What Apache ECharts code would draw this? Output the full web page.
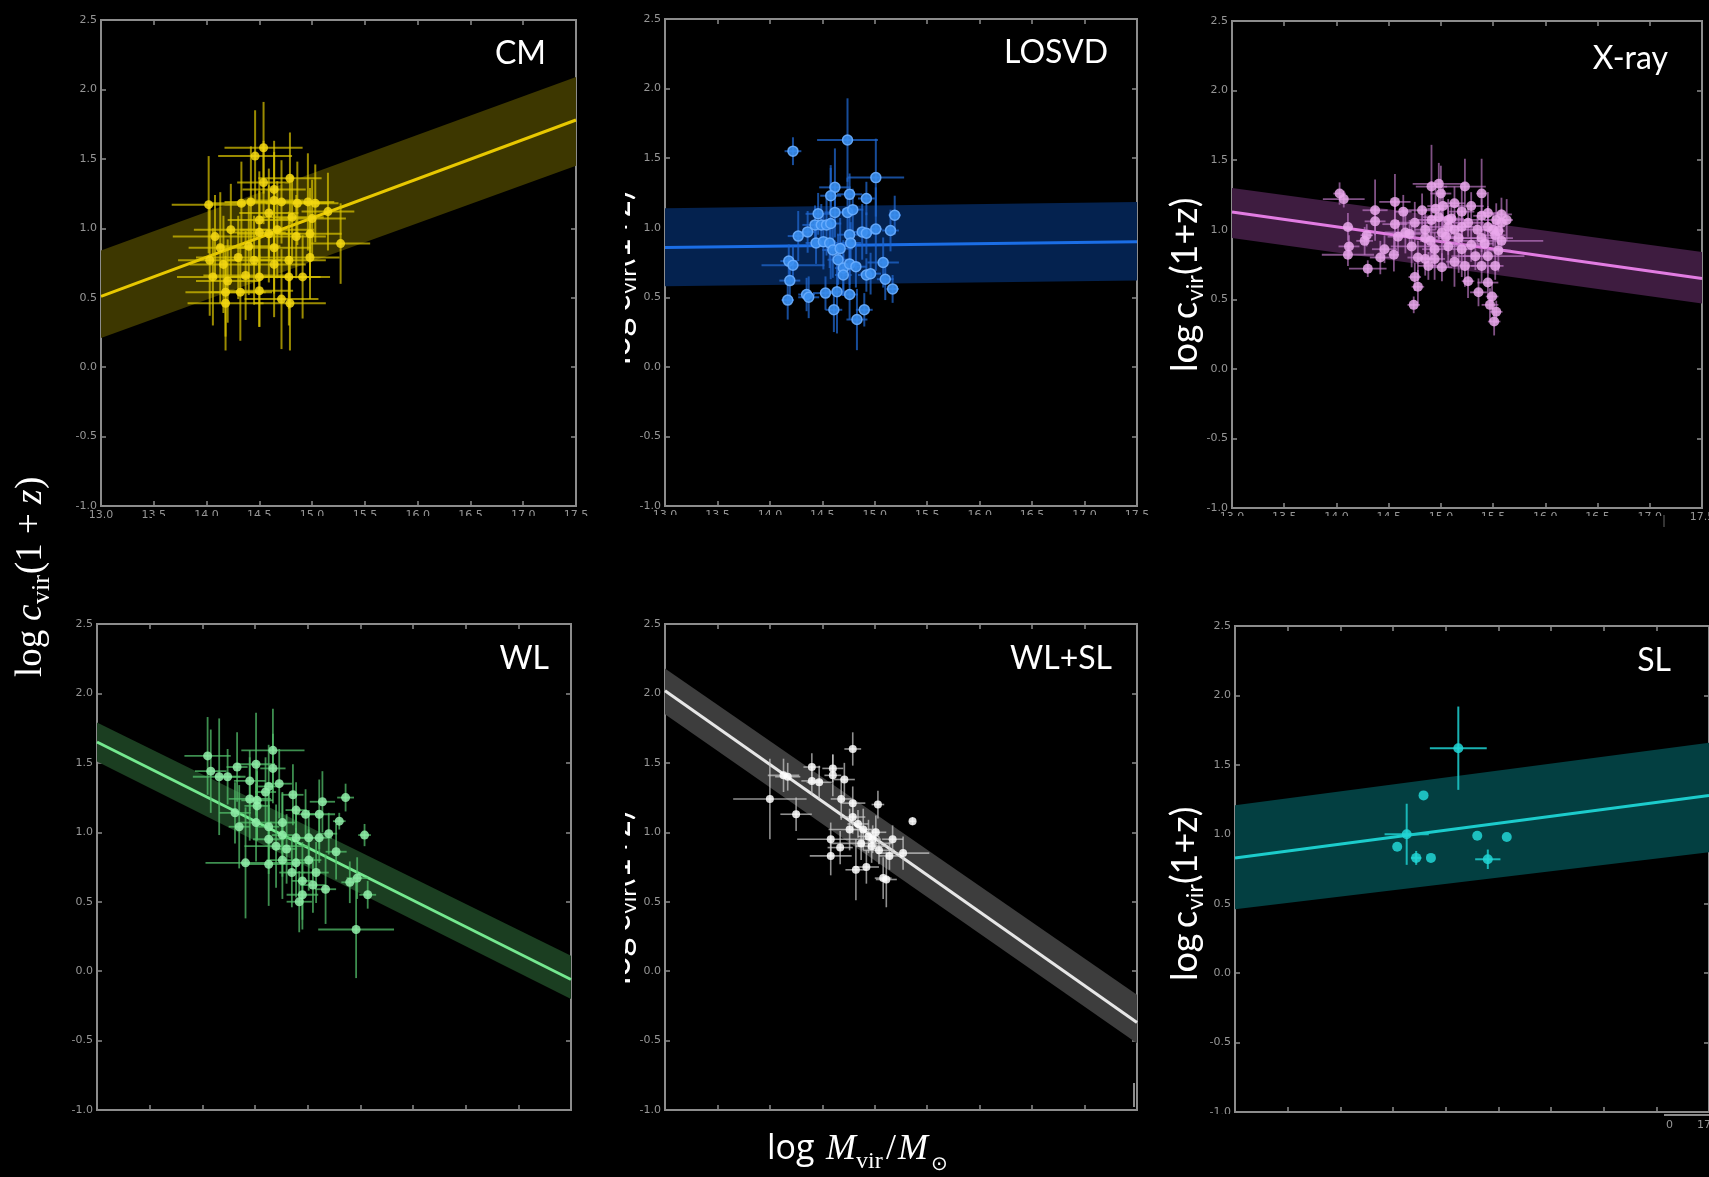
<!DOCTYPE html>
<html>
<head>
<meta charset="utf-8">
<script src="https://cdn.jsdelivr.net/npm/echarts@6/dist/echarts.min.js"></script>
<style>html,body{margin:0;padding:0;background:#000;}#c{width:1709px;height:1177px;}</style>
</head>
<body>
<div id="c"></div>
<script>
// ---- axes (shared by all panels) ----
const xMin = 13.0, xMax = 17.5, xStep = 0.5;
const yMin = -1.0, yMax = 2.5, yStep = 0.5;
const panelTitles = ['CM', 'LOSVD', 'X-ray', 'WL', 'WL+SL', 'SL'];

// ---- fitted relations: value at x = 13.0 and x = 17.5 ----
const bandX = [13.0, 17.5];
const cmLine = [0.51, 1.78],  cmLo = [0.21, 1.45],  cmHi = [0.84, 2.09];
const losLine = [0.857, 0.90], losLo = [0.58, 0.62], losHi = [1.14, 1.185];
const xrLine = [1.127, 0.65], xrLo = [0.94, 0.47],  xrHi = [1.30, 0.84];
const wlLine = [1.65, -0.06], wlLo = [1.51, -0.20], wlHi = [1.79, 0.11];
const wsLine = [2.02, -0.37], wsLo = [1.85, -0.52], wsHi = [2.18, -0.17];
const slLine = [0.83, 1.28],  slLo = [0.46, 0.87],  slHi = [1.21, 1.66];

// ---- CM ----
const cmX = [14.54,14.46,14.79,14.02,14.33,14.42,14.64,14.71,14.86,14.96,15.03,14.50,14.23,14.08,14.13,14.50,14.59,14.67,14.85,14.98,15.27,14.03,14.16,14.30,14.45,14.64,14.78,14.98,14.06,14.20,14.37,14.50,14.78,14.91,14.18,14.32,14.50,14.71,14.18,14.79,14.54,14.64,14.59,14.81,15.00,15.15,14.40,14.64];
const cmY = [1.58,1.52,1.36,1.17,1.18,1.19,1.20,1.19,1.18,1.19,1.18,1.06,0.99,0.94,0.86,0.97,0.96,0.99,0.94,0.96,0.89,0.77,0.74,0.79,0.77,0.74,0.77,0.79,0.65,0.62,0.66,0.65,0.65,0.65,0.54,0.54,0.55,0.49,0.46,0.46,1.33,1.28,1.11,1.08,1.07,1.12,0.87,0.86];
const cmXE = [0.37,0.35,0.30,0.35,0.30,0.25,0.28,0.33,0.30,0.25,0.22,0.30,0.35,0.40,0.30,0.25,0.30,0.35,0.28,0.30,0.28,0.30,0.32,0.40,0.26,0.30,0.35,0.28,0.34,0.30,0.40,0.28,0.30,0.26,0.38,0.30,0.32,0.35,0.36,0.34,0.25,0.30,0.28,0.30,0.32,0.25,0.30,0.35];
const cmYE = [0.33,0.33,0.33,0.35,0.30,0.40,0.35,0.30,0.30,0.35,0.28,0.35,0.33,0.30,0.40,0.30,0.35,0.35,0.30,0.33,0.29,0.40,0.35,0.30,0.32,0.38,0.35,0.30,0.35,0.30,0.32,0.36,0.35,0.30,0.32,0.35,0.26,0.36,0.34,0.34,0.30,0.35,0.32,0.30,0.28,0.28,0.35,0.33];

// ---- LOSVD ----
const losX = [14.22,14.74,15.01,14.62,14.58,14.76,14.92,14.46,14.62,14.74,14.79,15.19,14.27,14.36,14.43,14.49,14.54,14.58,14.76,14.88,14.92,15.01,15.15,14.44,14.51,14.57,14.60,14.67,14.77,14.18,14.22,14.65,14.70,14.76,14.82,15.08,14.70,14.92,14.96,15.10,14.19,15.17,14.35,14.37,14.53,14.64,14.76,14.17,14.61,14.90,14.83];
const losY = [1.55,1.63,1.36,1.29,1.23,1.24,1.21,1.10,1.11,1.11,1.13,1.09,0.94,0.97,1.02,1.02,1.02,1.03,0.95,0.97,0.96,0.99,0.98,0.89,0.90,0.89,0.84,0.85,0.89,0.76,0.73,0.77,0.71,0.74,0.72,0.75,0.66,0.66,0.67,0.63,0.62,0.56,0.52,0.50,0.53,0.54,0.52,0.48,0.41,0.41,0.34];
const losXE = [0.08,0.29,0.27,0.15,0.10,0.12,0.08,0.12,0.10,0.08,0.10,0.06,0.10,0.08,0.12,0.10,0.08,0.10,0.12,0.08,0.10,0.06,0.08,0.10,0.12,0.08,0.10,0.12,0.10,0.08,0.30,0.10,0.08,0.10,0.10,0.15,0.08,0.08,0.10,0.08,0.10,0.06,0.08,0.10,0.12,0.10,0.08,0.06,0.08,0.08,0.10];
const losYE = [0.10,0.30,0.28,0.28,0.22,0.15,0.12,0.15,0.18,0.25,0.15,0.14,0.18,0.15,0.14,0.15,0.22,0.40,0.18,0.20,0.15,0.30,0.15,0.15,0.20,0.18,0.20,0.22,0.15,0.12,0.14,0.18,0.20,0.15,0.15,0.18,0.15,0.12,0.15,0.15,0.16,0.10,0.12,0.15,0.12,0.30,0.18,0.14,0.16,0.12,0.22];

// ---- X-ray ----
const xrX = [14.03,14.07,14.37,14.56,14.37,14.64,14.11,14.29,14.12,14.11,14.27,14.42,14.30,14.55,14.46,14.72,14.78,14.75,14.78,14.74,14.88,14.91,14.98,15.00,15.23,15.39,15.02,15.13,15.20,15.07,14.91,14.82,14.85,15.01,15.13,15.26,15.45,15.53,15.58,15.45,15.52,15.58,15.55,15.39,15.29,15.20,15.07,14.94,15.13,15.01,15.23,15.39,15.52,15.26,15.36,15.45,15.49,15.47,15.53,15.51,14.66,14.59,14.56,14.75,14.85,14.98,15.07,15.17,14.94,14.85,15.33,15.45,15.29,15.39,15.58,15.63,15.05,15.10,14.95,15.35,15.50,14.70,15.20,15.42,15.55,14.90];
const xrY = [1.26,1.22,1.14,1.20,1.06,1.13,1.02,0.96,0.88,0.82,0.92,0.80,0.72,0.82,0.86,0.88,0.80,0.66,0.59,0.46,0.74,1.31,1.33,1.26,1.31,1.26,1.17,1.19,1.13,1.07,1.07,1.14,1.00,0.98,1.00,1.05,1.12,1.07,1.05,1.02,0.96,0.92,0.85,0.94,0.89,0.86,0.88,0.86,0.77,0.73,0.74,0.74,0.74,0.63,0.55,0.62,0.52,0.46,0.41,0.34,0.98,0.95,1.04,1.05,0.94,1.09,1.02,0.94,0.79,0.79,0.81,0.81,1.17,1.10,1.11,1.07,0.95,1.08,1.15,1.00,1.00,0.97,1.02,0.90,0.99,0.92];
const xrXE = [0.06,0.20,0.12,0.15,0.10,0.08,0.05,0.06,0.10,0.25,0.08,0.10,0.18,0.05,0.12,0.20,0.10,0.06,0.06,0.06,0.10,0.15,0.25,0.10,0.20,0.05,0.15,0.10,0.12,0.30,0.08,0.20,0.10,0.12,0.08,0.15,0.10,0.12,0.05,0.08,0.10,0.40,0.12,0.30,0.15,0.10,0.20,0.12,0.08,0.10,0.12,0.10,0.08,0.06,0.08,0.10,0.06,0.08,0.06,0.06,0.20,0.10,0.12,0.18,0.10,0.15,0.25,0.20,0.10,0.08,0.12,0.35,0.12,0.08,0.10,0.06,0.10,0.12,0.08,0.15,0.10,0.12,0.10,0.08,0.06,0.10];
const xrYE = [0.08,0.06,0.22,0.20,0.10,0.12,0.10,0.08,0.08,0.08,0.10,0.12,0.06,0.12,0.10,0.15,0.12,0.10,0.12,0.06,0.10,0.30,0.15,0.20,0.20,0.25,0.15,0.12,0.18,0.10,0.28,0.12,0.15,0.20,0.12,0.10,0.15,0.12,0.10,0.15,0.12,0.10,0.15,0.10,0.12,0.20,0.15,0.12,0.18,0.10,0.15,0.12,0.10,0.12,0.10,0.12,0.10,0.12,0.08,0.10,0.15,0.12,0.18,0.15,0.12,0.18,0.20,0.25,0.15,0.12,0.10,0.12,0.10,0.12,0.12,0.15,0.10,0.12,0.15,0.10,0.12,0.10,0.12,0.10,0.10,0.12];

// ---- WL ----
const wlX = [14.05,14.08,14.16,14.24,14.33,14.51,14.67,14.67,14.45,14.63,14.73,14.86,14.52,14.60,14.45,14.31,14.52,14.35,14.51,14.63,14.76,14.89,14.98,15.11,15.14,15.36,15.30,14.63,14.76,14.89,15.01,15.11,15.20,15.54,15.27,14.41,14.63,14.76,14.89,15.01,14.70,14.85,14.95,15.08,15.17,14.95,15.05,15.40,15.47,15.57,15.46,14.92,14.80];
const wlY = [1.55,1.44,1.40,1.40,1.47,1.49,1.59,1.46,1.37,1.33,1.35,1.27,1.23,1.29,1.24,1.14,1.19,1.04,1.07,1.04,1.07,1.16,1.13,1.13,1.22,1.25,1.08,0.95,0.98,0.96,0.96,0.96,0.99,0.98,0.86,0.78,0.77,0.80,0.78,0.80,0.90,0.71,0.65,0.71,0.59,0.55,0.62,0.64,0.67,0.55,0.30,0.50,0.88];
const wlXE = [0.22,0.15,0.25,0.12,0.10,0.18,0.30,0.12,0.15,0.10,0.12,0.10,0.15,0.10,0.20,0.15,0.12,0.10,0.15,0.10,0.12,0.10,0.10,0.15,0.12,0.08,0.06,0.15,0.10,0.12,0.10,0.12,0.08,0.06,0.10,0.38,0.25,0.15,0.10,0.12,0.30,0.12,0.10,0.12,0.10,0.15,0.12,0.08,0.10,0.08,0.36,0.12,0.10];
const wlYE = [0.28,0.30,0.42,0.20,0.25,0.37,0.30,0.25,0.22,0.30,0.25,0.22,0.28,0.25,0.30,0.22,0.25,0.30,0.28,0.25,0.22,0.20,0.18,0.25,0.22,0.10,0.06,0.25,0.30,0.22,0.20,0.18,0.15,0.08,0.20,0.40,0.30,0.28,0.25,0.22,0.30,0.25,0.28,0.22,0.25,0.25,0.20,0.15,0.15,0.10,0.35,0.22,0.25];

// ---- WL+SL ----
const wsX = [14.79,14.00,14.13,14.17,14.25,14.40,14.40,14.47,14.60,14.60,14.71,14.68,14.79,15.03,15.36,14.79,14.84,14.89,14.94,14.98,15.01,14.76,14.67,14.58,14.58,15.04,15.17,15.27,14.82,14.92,15.08,15.11,14.97,14.87,15.14];
const wsY = [1.60,1.24,1.41,1.40,1.13,1.37,1.47,1.36,1.46,1.41,1.38,1.24,1.21,1.20,1.08,1.11,1.06,1.02,0.97,0.95,1.00,1.02,0.89,0.95,0.83,0.87,0.95,0.85,0.73,0.75,0.67,0.66,0.90,0.92,0.83];
const wsXE = [0.08,0.35,0.15,0.12,0.15,0.10,0.08,0.12,0.10,0.08,0.10,0.10,0.12,0.06,0.03,0.12,0.10,0.12,0.10,0.08,0.10,0.20,0.12,0.32,0.20,0.15,0.10,0.25,0.10,0.12,0.08,0.10,0.15,0.30,0.10];
const wsYE = [0.12,0.29,0.12,0.10,0.12,0.10,0.10,0.12,0.10,0.15,0.12,0.15,0.12,0.10,0.03,0.12,0.10,0.15,0.12,0.10,0.12,0.15,0.12,0.12,0.14,0.10,0.10,0.12,0.22,0.12,0.15,0.20,0.12,0.12,0.10];

// ---- SL ----
const slX = [15.12,14.63,14.54,14.79,14.72,14.86,15.30,15.40,15.58];
const slY = [1.62,1.00,0.91,1.28,0.83,0.83,0.99,0.82,0.98];
const slXE = [0.27,0.21,0,0,0.05,0,0,0.12,0];
const slYE = [0.30,0.22,0,0,0.05,0,0,0.07,0];

// ---------------- layout / styling ----------------
const gridRects = [
  {left: 101, top: 20, width: 475, height: 486},
  {left: 665, top: 19, width: 472, height: 487},
  {left: 1232, top: 21, width: 470, height: 487},
  {left: 97, top: 624, width: 474, height: 486},
  {left: 665, top: 624, width: 472, height: 486},
  {left: 1235, top: 626, width: 474, height: 486}
];
const looks = [
  {band: '#3d3700', line: '#e8c800', err: '#dcc400', errW: 2, errOp: 0.7, pt: '#f4d812', ptSize: 9, ptBorder: null},
  {band: '#04224f', line: '#1b6ee6', err: '#1f66cc', errW: 2, errOp: 0.75, pt: '#3b8ff0', ptSize: 10, ptBorder: '#6aaeff'},
  {band: '#3e1c40', line: '#e27ce2', err: '#c47ccc', errW: 1.8, errOp: 0.65, pt: '#eaa8ec', ptSize: 10, ptBorder: null},
  {band: '#1b3e21', line: '#74e88f', err: '#52be6a', errW: 1.8, errOp: 0.75, pt: '#92f0aa', ptSize: 9, ptBorder: null},
  {band: '#3d3d3d', line: '#e6e6e6', err: '#cccccc', errW: 1.6, errOp: 0.7, pt: '#ffffff', ptSize: 8, ptBorder: null},
  {band: '#033f41', line: '#1ccccc', err: '#1cc4c4', errW: 2, errOp: 0.9, pt: '#22d6d6', ptSize: 10, ptBorder: null}
];
const panelData = [
  [cmX, cmY, cmXE, cmYE, cmLine, cmLo, cmHi],
  [losX, losY, losXE, losYE, losLine, losLo, losHi],
  [xrX, xrY, xrXE, xrYE, xrLine, xrLo, xrHi],
  [wlX, wlY, wlXE, wlYE, wlLine, wlLo, wlHi],
  [wsX, wsY, wsXE, wsYE, wsLine, wsLo, wsHi],
  [slX, slY, slXE, slYE, slLine, slLo, slHi]
];

const frameColor = '#8c8c8c';
const tickLabelColor = '#969696';

function bandRenderer(lo, hi, color) {
  return function (params, api) {
    const pts = [];
    for (let i = 0; i < bandX.length; i++) pts.push(api.coord([bandX[i], hi[i]]));
    for (let i = bandX.length - 1; i >= 0; i--) pts.push(api.coord([bandX[i], lo[i]]));
    return {type: 'polygon', shape: {points: pts}, style: {fill: color}};
  };
}
function errRenderer(color, w, op) {
  return function (params, api) {
    const x = api.value(0), y = api.value(1), ex = api.value(2), ey = api.value(3);
    const kids = [];
    const st = {stroke: color, lineWidth: w, opacity: op};
    if (ex > 0) {
      const a = api.coord([x - ex, y]), b = api.coord([x + ex, y]);
      kids.push({type: 'line', shape: {x1: a[0], y1: a[1], x2: b[0], y2: b[1]}, style: st});
    }
    if (ey > 0) {
      const a = api.coord([x, y - ey]), b = api.coord([x, y + ey]);
      kids.push({type: 'line', shape: {x1: a[0], y1: a[1], x2: b[0], y2: b[1]}, style: st});
    }
    return {type: 'group', children: kids};
  };
}

const grids = [], xAxes = [], yAxes = [], series = [];
const tickStyle = {show: true, inside: true, length: 5, lineStyle: {color: frameColor, width: 1.5}};
const fmt = v => v.toFixed(1);

gridRects.forEach((g, i) => {
  grids.push(Object.assign({show: true, backgroundColor: 'transparent', borderColor: frameColor, borderWidth: 2,
    containLabel: false, outerBoundsMode: 'none'}, g));
  const topRow = i < 3;
  xAxes.push({type: 'value', gridIndex: i, min: xMin, max: xMax, interval: xStep, position: 'bottom',
    axisLine: {show: false, onZero: false}, splitLine: {show: false}, axisTick: tickStyle,
    axisLabel: {show: topRow, color: tickLabelColor, fontSize: 11, fontFamily: 'DejaVu Sans', margin: 4,
      formatter: fmt, showMinLabel: true, showMaxLabel: true, hideOverlap: false}});
  xAxes.push({type: 'value', gridIndex: i, min: xMin, max: xMax, interval: xStep, position: 'top',
    axisLine: {show: false, onZero: false}, splitLine: {show: false}, axisTick: tickStyle, axisLabel: {show: false}});
  yAxes.push({type: 'value', gridIndex: i, min: yMin, max: yMax, interval: yStep, position: 'left',
    axisLine: {show: false, onZero: false}, splitLine: {show: false}, axisTick: tickStyle,
    axisLabel: {show: true, color: tickLabelColor, fontSize: 11, fontFamily: 'DejaVu Sans', margin: 4,
      formatter: fmt, showMinLabel: true, showMaxLabel: true, hideOverlap: false}});
  yAxes.push({type: 'value', gridIndex: i, min: yMin, max: yMax, interval: yStep, position: 'right',
    axisLine: {show: false, onZero: false}, splitLine: {show: false}, axisTick: tickStyle, axisLabel: {show: false}});

  const [xs, ys, xe, ye, ln, lo, hi] = panelData[i];
  const lk = looks[i];
  const xi = 2 * i, yi = 2 * i;

  series.push({type: 'custom', xAxisIndex: xi, yAxisIndex: yi, z: 1, silent: true,
    data: [[bandX[0], lo[0]]], encode: {x: 0, y: 1}, renderItem: bandRenderer(lo, hi, lk.band)});
  series.push({type: 'line', xAxisIndex: xi, yAxisIndex: yi, z: 2, silent: true, symbol: 'none',
    data: bandX.map((x, k) => [x, ln[k]]), lineStyle: {color: lk.line, width: 3}});
  const n = Math.min(xs.length, ys.length, xe.length, ye.length);
  const errData = [], ptData = [];
  for (let k = 0; k < n; k++) { errData.push([xs[k], ys[k], xe[k], ye[k]]); ptData.push([xs[k], ys[k]]); }
  series.push({type: 'custom', xAxisIndex: xi, yAxisIndex: yi, z: 3, silent: true,
    data: errData, encode: {x: 0, y: 1}, renderItem: errRenderer(lk.err, lk.errW, lk.errOp)});
  series.push({type: 'scatter', xAxisIndex: xi, yAxisIndex: yi, z: 4, silent: true, symbol: 'circle',
    symbolSize: lk.ptSize, data: ptData,
    itemStyle: lk.ptBorder ? {color: lk.pt, borderColor: lk.ptBorder, borderWidth: 1.5, opacity: 0.9}
                           : {color: lk.pt, opacity: 0.85}});
});

// ---------------- texts & collage details ----------------
const W = '#ffffff';
function txt(text, x, y, font, align, extra) {
  return Object.assign({type: 'text', x: x, y: y, z: 50,
    style: {text: text, font: font, fill: W, align: align || 'left', verticalAlign: 'middle',
            textAlign: align || 'left', textVerticalAlign: 'middle'}}, extra || {});
}
const titlePos = [[546, 54], [1108, 53], [1668, 59], [549, 659], [1112, 659], [1671, 661]];
const graphics = [];
const covers = [
  [152, 516, 450, 30], [600, 515, 560, 30], [1160, 516, 530, 30],
  [0, 1113, 1160, 15], [1160, 1114, 504, 30],
  [588, 165, 37, 220], [588, 775, 37, 230]
];
titlePos.forEach((p, i) => graphics.push(txt(panelTitles[i], p[0], p[1], '32px Lato', 'right')));

function sansYLabel(x, y) {
  return {type: 'group', x: x, y: y, rotation: Math.PI / 2, z: 40, children: [
    txt('log', 0, -14, '36px Lato'),
    txt('c', 53, -14, '36px Lato'),
    txt('vir', 71, -3, '23px Lato'),
    txt('(1+z)', 97, -14, '36px Lato')
  ]};
}
graphics.push(sansYLabel(632, 365));
graphics.push(sansYLabel(1199, 372));
graphics.push(sansYLabel(632, 985));
graphics.push(sansYLabel(1199, 981));
covers.forEach(c => graphics.push({type: 'rect', z: 60, shape: {x: c[0], y: c[1], width: c[2], height: c[3]},
  style: {fill: '#000'}}));

graphics.push({type: 'group', x: 44, y: 677, rotation: Math.PI / 2, z: 70, children: [
  txt('log', 0, -12.5, '37px "Liberation Serif"'),
  txt('c', 56, -12.5, 'italic 37px "Liberation Serif"'),
  txt('vir', 73, -1.5, '26px "Liberation Serif"'),
  txt('(1 + ', 103, -12.5, '37px "Liberation Serif"'),
  txt('z', 173, -12.5, 'italic 37px "Liberation Serif"'),
  txt(')', 188, -12.5, '37px "Liberation Serif"')
]});
graphics.push(txt('log', 767, 1149, '34px "Open Sans"'));
graphics.push(txt('M', 826, 1150, 'italic 36px "Liberation Serif"'));
graphics.push(txt('vir', 856, 1162, '24px "Liberation Serif"'));
graphics.push(txt('/', 886, 1150, '36px "Liberation Serif"'));
graphics.push(txt('M', 898, 1150, 'italic 36px "Liberation Serif"'));
graphics.push(txt('\u2299', 931, 1165, '20px "DejaVu Sans"'));

graphics.push({type: 'line', z: 65, shape: {x1: 1664, y1: 1115, x2: 1709, y2: 1115}, style: {stroke: frameColor, lineWidth: 2}});
graphics.push({type: 'line', z: 65, shape: {x1: 1134, y1: 1083, x2: 1134, y2: 1107}, style: {stroke: frameColor, lineWidth: 2}});
graphics.push({type: 'line', z: 65, shape: {x1: 1664, y1: 515, x2: 1664, y2: 527}, style: {stroke: '#666', lineWidth: 1}});
graphics.push(Object.assign(txt('0', 1666, 1125, '11px "DejaVu Sans"'), {z: 66}));
graphics.push(Object.assign(txt('17', 1697, 1125, '11px "DejaVu Sans"'), {z: 66}));
graphics.forEach(g => { if (g.type === 'text' && g.style && (g.style.text === '0' || g.style.text === '17')) g.style.fill = tickLabelColor; });

const chart = echarts.init(document.getElementById('c'), null, {renderer: 'canvas', width: 1709, height: 1177});
chart.setOption({
  backgroundColor: '#000000',
  animation: false,
  grid: grids,
  xAxis: xAxes,
  yAxis: yAxes,
  series: series,
  graphic: {elements: graphics}
});
</script>
</body>
</html>
